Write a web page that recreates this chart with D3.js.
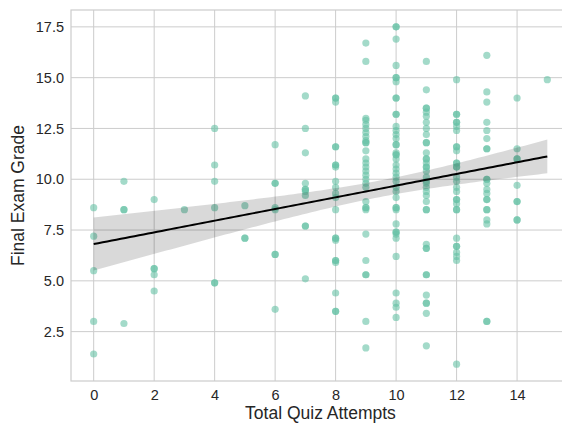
<!DOCTYPE html>
<html>
<head>
<meta charset="utf-8">
<script src="https://cdn.jsdelivr.net/npm/d3@7"></script>
<style>
    body { margin: 0; background: #fff; }
    text { font-family: "Liberation Sans", Arial, sans-serif; fill: #262626; }
</style>
</head>
<body>
<div id="chart"></div>
<script>

const quizAttempts = [0, 1, 2, 3, 4, 5, 6, 7, 8, 9, 10, 11, 12, 13, 14, 15];

const gradesByAttempts = [
    [8.6, 7.2, 5.5, 3.0, 1.4],
    [9.9, 8.5, 8.5, 2.9],
    [9.0, 5.6, 5.6, 5.3, 4.5],
    [8.5],
    [12.5, 10.7, 9.9, 8.6, 4.9, 4.9],
    [8.7, 7.1, 7.1],
    [11.7, 9.8, 9.8, 8.6, 8.5, 6.3, 6.3, 3.6],
    [14.1, 12.5, 11.3, 9.8, 9.5, 9.5, 9.4, 9.2, 7.7, 7.7, 5.1],
    [14.0, 14.0, 13.8, 11.6, 11.6, 10.7, 10.7, 10.6, 9.9, 9.6, 9.3, 9.1, 8.5, 7.1, 7.1, 7.0, 6.0, 6.0, 5.9, 4.4, 3.5, 3.5],
    [16.7, 15.8, 13.0, 12.9, 12.7, 12.5, 12.3, 12.1, 11.9, 11.8, 11.8, 11.4, 11.0, 10.8, 10.6, 10.4, 10.2, 10.0, 9.8, 9.6, 8.9, 8.6, 8.6, 8.5, 7.3, 6.0, 5.3, 5.3, 3.0, 1.7],
    [17.5, 17.5, 16.9, 15.6, 15.0, 15.0, 14.8, 14.0, 14.0, 13.2, 13.2, 12.6, 12.4, 12.2, 12.0, 11.7, 11.7, 11.3, 11.2, 11.2, 11.0, 10.7, 10.5, 10.3, 10.1, 9.9, 9.6, 9.4, 9.1, 8.6, 8.6, 8.5, 7.8, 7.4, 7.4, 7.3, 7.1, 6.2, 4.4, 3.9, 3.7, 3.2],
    [15.8, 14.4, 13.5, 13.5, 13.3, 13.1, 12.8, 12.5, 12.2, 11.8, 11.8, 11.3, 11.0, 11.0, 10.8, 10.6, 10.6, 10.4, 10.1, 9.9, 9.8, 9.6, 9.4, 9.2, 8.9, 8.5, 8.5, 6.8, 6.6, 6.6, 5.3, 5.3, 4.3, 3.9, 3.9, 3.4, 1.8],
    [14.9, 13.2, 13.2, 12.8, 12.8, 12.6, 12.4, 11.6, 11.6, 11.4, 10.8, 10.8, 10.6, 10.6, 10.1, 9.9, 9.6, 9.4, 9.0, 9.0, 8.8, 8.5, 8.5, 7.1, 6.7, 6.7, 6.4, 6.2, 6.0, 0.9],
    [16.1, 14.3, 13.8, 12.8, 12.4, 12.0, 11.5, 11.5, 10.0, 10.0, 9.8, 9.5, 9.3, 9.0, 9.0, 8.5, 8.5, 8.0, 7.8, 3.0, 3.0],
    [14.0, 11.5, 11.0, 11.0, 9.7, 8.9, 8.9, 8.0, 8.0],
    [14.9]
];

const xTicks = [0, 2, 4, 6, 8, 10, 12, 14];
const yTicks = [2.5, 5.0, 7.5, 10.0, 12.5, 15.0, 17.5];

// flatten into points
let points = [];
quizAttempts.forEach((a, i) => {
    gradesByAttempts[i].forEach(g => points.push({x: a, y: g}));
});

const width = 562, height = 425;
const margin = {top: 10, right: -8, bottom: 44, left: 71};
const innerW = width - margin.left - margin.right;
const innerH = height - margin.top - margin.bottom;

let svg = d3.select("#chart").append("svg")
    .attr("width", width)
    .attr("height", height);

// matplotlib style 5% margins
let xExt = d3.extent(points, d => d.x);
let yExt = d3.extent(points, d => d.y);
let xPad = (xExt[1] - xExt[0]) * 0.05;
let yPad = (yExt[1] - yExt[0]) * 0.05;

let x = d3.scaleLinear()
    .domain([xExt[0] - xPad, xExt[1] + xPad])
    .range([margin.left, margin.left + innerW]);

let y = d3.scaleLinear()
    .domain([yExt[0] - yPad, yExt[1] + yPad])
    .range([margin.top + innerH, margin.top]);

// grid
let grid = svg.append("g").attr("class", "grid");
grid.selectAll(".vgrid")
    .data(xTicks)
    .enter().append("line")
    .attr("x1", d => x(d)).attr("x2", d => x(d))
    .attr("y1", margin.top).attr("y2", margin.top + innerH)
    .attr("stroke", "#cccccc").attr("stroke-width", 1);
grid.selectAll(".hgrid")
    .data(yTicks)
    .enter().append("line")
    .attr("x1", margin.left).attr("x2", margin.left + innerW)
    .attr("y1", d => y(d)).attr("y2", d => y(d))
    .attr("stroke", "#cccccc").attr("stroke-width", 1);

// spines
svg.append("rect")
    .attr("x", margin.left).attr("y", margin.top)
    .attr("width", innerW).attr("height", innerH)
    .attr("fill", "none")
    .attr("stroke", "#cccccc").attr("stroke-width", 1.2);

// scatter
svg.append("g").selectAll("circle")
    .data(points)
    .enter().append("circle")
    .attr("cx", d => x(d.x))
    .attr("cy", d => y(d.y))
    .attr("r", 3.6)
    .attr("fill", "#66c2a5")
    .attr("fill-opacity", 0.6);

// least squares fit with 95% confidence band
let n = points.length;
let mx = d3.mean(points, d => d.x);
let my = d3.mean(points, d => d.y);
let sxx = d3.sum(points, d => (d.x - mx) ** 2);
let sxy = d3.sum(points, d => (d.x - mx) * (d.y - my));
let slope = sxy / sxx;
let intercept = my - slope * mx;
let s = Math.sqrt(d3.sum(points, d => (d.y - intercept - slope * d.x) ** 2) / (n - 2));
let tval = 1.97;

let grid100 = d3.range(0, 101).map(i => xExt[0] + (xExt[1] - xExt[0]) * i / 100);
let fit = grid100.map(gx => {
    let yh = intercept + slope * gx;
    let se = s * Math.sqrt(1 / n + (gx - mx) ** 2 / sxx);
    return {x: gx, y: yh, lo: yh - tval * se, hi: yh + tval * se};
});

svg.append("path")
    .datum(fit)
    .attr("fill", "#000")
    .attr("fill-opacity", 0.15)
    .attr("d", d3.area().x(d => x(d.x)).y0(d => y(d.lo)).y1(d => y(d.hi)));

svg.append("path")
    .datum(fit)
    .attr("fill", "none")
    .attr("stroke", "#000")
    .attr("stroke-width", 2)
    .attr("d", d3.line().x(d => x(d.x)).y(d => y(d.y)));

// axes
let xAxis = d3.axisBottom(x).tickValues(xTicks).tickSize(0).tickPadding(9);
let yAxis = d3.axisLeft(y).tickValues(yTicks).tickSize(0).tickPadding(7)
    .tickFormat(d3.format(".1f"));

svg.append("g")
    .attr("transform", `translate(0,${margin.top + innerH})`)
    .call(xAxis)
    .call(g => g.select(".domain").remove())
    .selectAll("text")
    .attr("font-size", 14.5)
    .attr("font-family", "Liberation Sans, Arial, sans-serif")
    .attr("fill", "#262626");

svg.append("g")
    .attr("transform", `translate(${margin.left},0)`)
    .call(yAxis)
    .call(g => g.select(".domain").remove())
    .selectAll("text")
    .attr("font-size", 14.5)
    .attr("font-family", "Liberation Sans, Arial, sans-serif")
    .attr("fill", "#262626");

// axis labels
svg.append("text")
    .attr("x", margin.left + (x(15.75) - margin.left) / 2)
    .attr("y", 419)
    .attr("text-anchor", "middle")
    .attr("font-size", 17.5)
    .text("Total Quiz Attempts");

svg.append("text")
    .attr("transform", `translate(24, ${margin.top + innerH / 2}) rotate(-90)`)
    .attr("text-anchor", "middle")
    .attr("font-size", 17.5)
    .text("Final Exam Grade");

</script>
</body>
</html>
